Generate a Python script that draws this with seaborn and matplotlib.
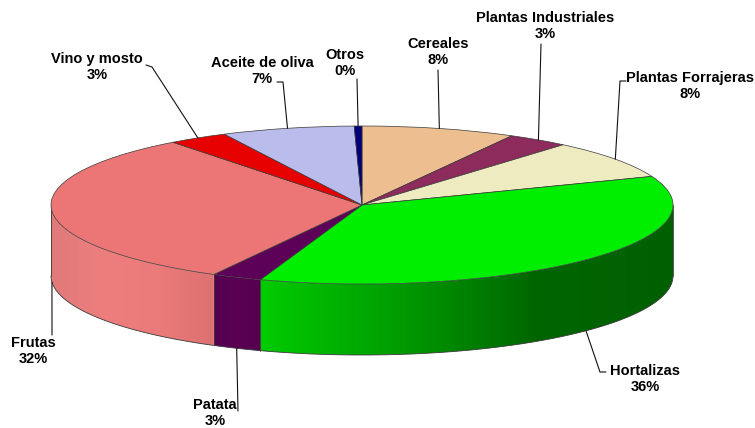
import numpy as np
import matplotlib
matplotlib.use("Agg")
import matplotlib.pyplot as plt
from matplotlib.patches import Polygon
import seaborn as sns

categorias = ["Cereales", "Plantas Industriales", "Plantas Forrajeras", "Hortalizas",
              "Patata", "Frutas", "Vino y mosto", "Aceite de oliva", "Otros"]
porcentajes = [8.0, 3.2, 7.9, 36.2, 2.6, 31.7, 3.1, 6.9, 0.4]
colores = ["#ECBE90", "#8C2B5C", "#EFEBC0", "#00EE00", "#5C0058",
           "#EC7676", "#E60000", "#BABCEC", "#000078"]

# degradado del lateral del cilindro (izquierda -> derecha)
lateral = {
    "Hortalizas": ["#00CC00", "#009C00", "#006600", "#006000"],
    "Patata": ["#56004F", "#5A0054", "#56004F"],
    "Frutas": ["#E07A7A", "#EE7E7E", "#EB7B7B", "#DD7070"],
}

sns.set_theme(style="white")
plt.rcParams["font.family"] = ["Liberation Sans", "DejaVu Sans"]

W, H = 755, 428
CX, CY = 362, 205      # centro de la cara superior en px
RX, RY = 311, 79       # semiejes de la elipse en px
PROF = 71 / RY         # grosor en unidades de y


def px(x, y):
    return (x - CX) / RX, (CY - y) / RY


fig = plt.figure(figsize=(W / 100, H / 100), dpi=100)
ax = fig.add_axes([0, 0, 1, 1])

valores = np.array(porcentajes)
frac = valores / valores.sum()
fin = np.cumsum(frac) * 360
ini = fin - frac * 360
borde = "#3a3a3a"

# lateral (solo la mitad delantera es visible), relleno con degradado
for nombre, col, a0, a1 in zip(categorias, colores, ini, fin):
    t0, t1 = max(a0, 90), min(a1, 270)
    if t1 <= t0:
        continue
    th = np.radians(np.linspace(t0, t1, 100))
    xs, ys = np.sin(th), np.cos(th)
    contorno = np.column_stack([np.r_[xs, xs[::-1]], np.r_[ys, ys[::-1] - PROF]])
    forma = Polygon(contorno, closed=True, fc="none", ec="none", transform=ax.transData)
    ax.add_patch(forma)
    cmap = sns.blend_palette(lateral.get(nombre, [col, col]), as_cmap=True)
    grad = cmap(np.linspace(0, 1, 256))[None, :, :]
    img = ax.imshow(grad, extent=(xs.min(), xs.max(), ys.min() - PROF, ys.max()),
                    aspect="auto", interpolation="bilinear", zorder=1)
    img.set_clip_path(forma)

th = np.radians(np.linspace(90, 270, 200))
ax.plot(np.sin(th), np.cos(th) - PROF, color=borde, lw=0.6, zorder=2)
for a in [90, 270] + [b for b in fin if 90 < b < 270]:
    r = np.radians(a)
    ax.plot([np.sin(r)] * 2, [np.cos(r), np.cos(r) - PROF], color=borde, lw=0.6, zorder=2)

# cara superior
wedges, _ = ax.pie(valores, colors=colores, startangle=90, counterclock=False,
                   radius=1, center=(0, 0),
                   wedgeprops=dict(edgecolor=borde, linewidth=0.5))
for w in wedges:
    w.set_zorder(3)

# etiquetas: centro del texto y codos de la guia (px)
etiquetas = {
    "Cereales": ((438, 52), [(438, 70)]),
    "Plantas Industriales": ((545, 26), [(541, 44)]),
    "Plantas Forrajeras": ((690, 86), [(620, 81), (626, 81)]),
    "Hortalizas": ((645, 379), [(600, 372), (606, 372)]),
    "Patata": ((215, 413), [(238, 411)]),
    "Frutas": ((33, 351), [(52, 335)]),
    "Vino y mosto": ((97, 67), [(152, 67), (146, 65)]),
    "Aceite de oliva": ((262, 71), [(283, 82), (277, 82)]),
    "Otros": ((345, 63), [(357, 79)]),
}

for nombre, v, a0, a1 in zip(categorias, valores, ini, fin):
    m = np.radians((a0 + a1) / 2)
    ancla = (np.sin(m), np.cos(m) - (PROF if 90 < np.degrees(m) < 270 else 0))
    (tx, ty), codos = etiquetas[nombre]
    pts = [ancla] + [px(*p) for p in codos]
    ax.plot([p[0] for p in pts], [p[1] for p in pts], color="#111111", lw=0.8, zorder=4)
    ax.text(*px(tx, ty), f"{nombre}\n{round(v)}%", ha="center", va="center",
            fontsize=10.5, fontweight="bold", linespacing=1.15, color="black", zorder=5)

ax.set_aspect("auto")
ax.set_xlim(-CX / RX, (W - CX) / RX)
ax.set_ylim((CY - H) / RY, CY / RY)
ax.axis("off")

fig.savefig("out.png", dpi=100)
